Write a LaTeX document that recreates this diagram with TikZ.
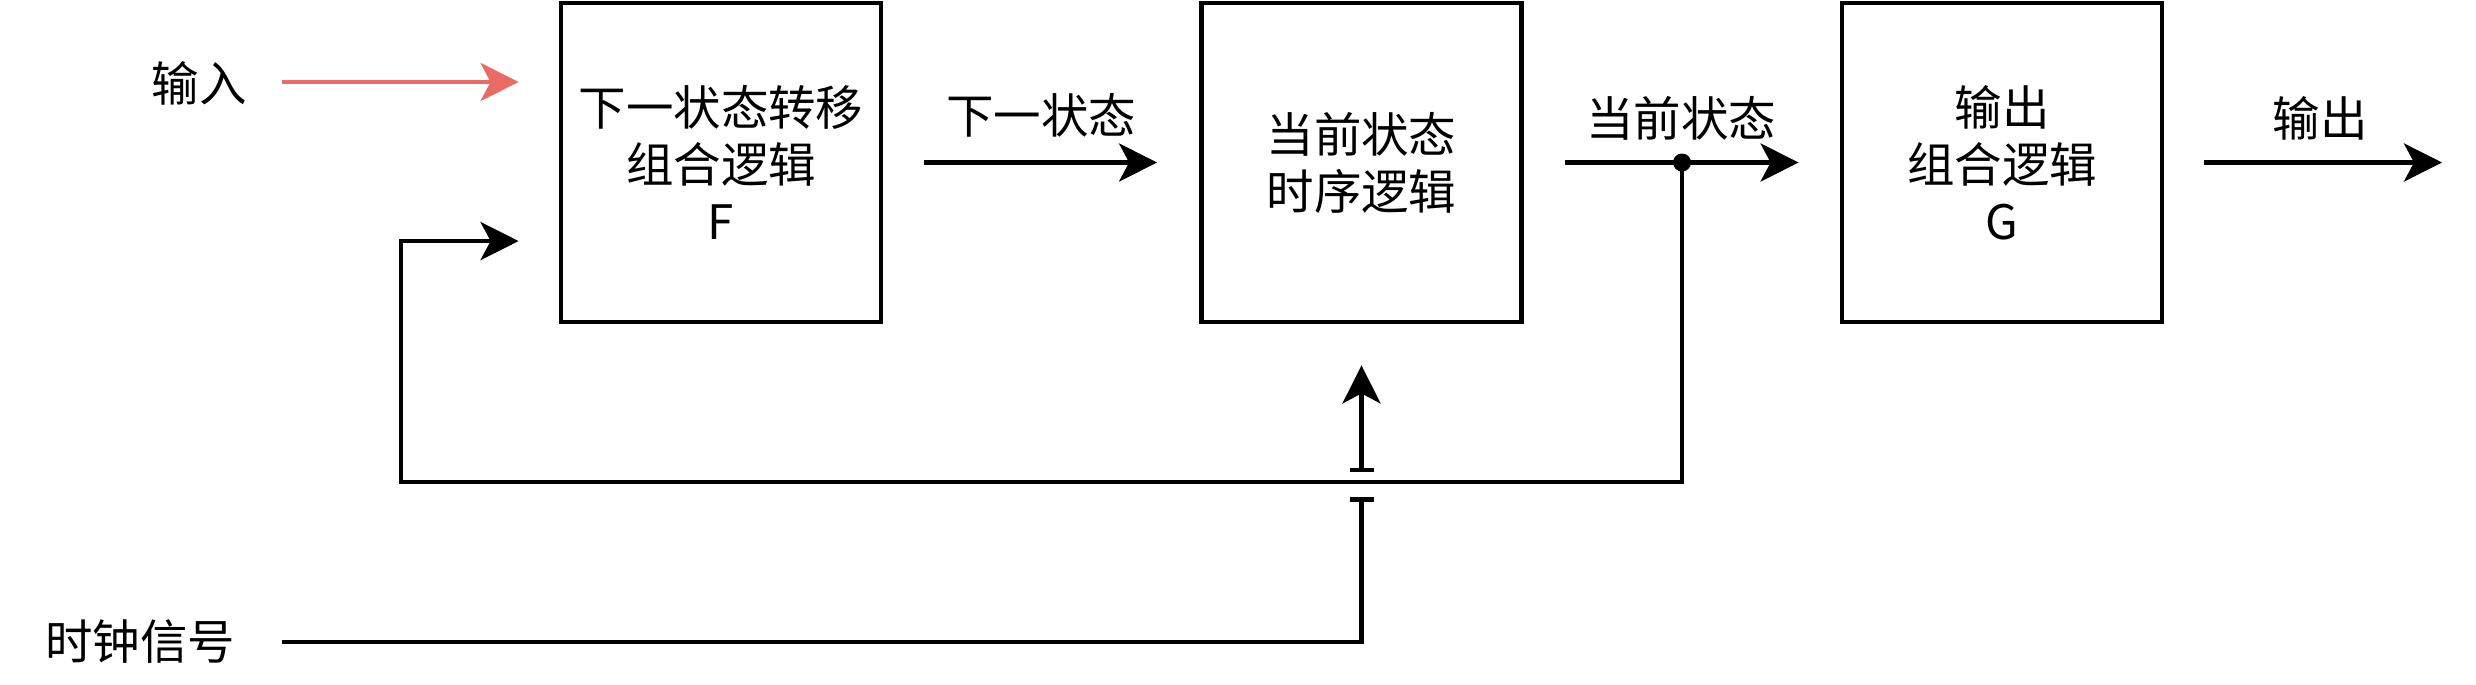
\documentclass[tikz,border=0pt]{standalone}
\usepackage{fontspec}
\setmainfont{Noto Sans CJK SC}
\usetikzlibrary{arrows.meta}
\definecolor{inred}{HTML}{EA6B66}
\tikzset{
  block/.style={draw, line width=1.3pt, minimum width=3.2cm, minimum height=3.19cm, align=center, font=\fontsize{13.5}{16.2}\selectfont},
  lbl/.style={font=\fontsize{13.5}{16.2}\selectfont},
  flow/.style={line width=1.25pt, -{Stealth[length=0.38cm,width=0.38cm,inset=0.1cm]}}
}
\begin{document}
\begin{tikzpicture}[x=0.01cm, y=-0.01cm]
    \useasboundingbox (0,0) rectangle (2476,684);
    \node[block] (F) at (721,162.5) {下一状态转移\\组合逻辑\\F};
    \node[block] (S) at (1361.5,162.5) {当前状态\\时序逻辑};
    \node[block] (G) at (2002,162.5) {输出\\组合逻辑\\G};
    \node[lbl] (in) at (199,83) {输入};
    \node[lbl] (clk) at (140,642) {时钟信号};
    \node[lbl] (nxt) at (1041,115) {下一状态};
    \node[lbl] (cur) at (1681,118) {当前状态};
    \node[lbl] (out) at (2320,118) {输出};
    \coordinate (inStart) at (282,82);
    \coordinate (clkStart) at (282,642);
    \coordinate (tap) at (1682,162.5);
    \coordinate (fbCorner) at (401,482);
    \coordinate (outEnd) at (2442,162.5);

    \draw[flow, inred, shorten >=0.4cm] (inStart) -- (inStart -| F.west);
    \draw[flow, shorten <=0.41cm, shorten >=0.42cm] (F.east) -- (S.west);
    \draw[flow, shorten <=0.41cm, shorten >=0.41cm] (S.east) -- (G.west);
    \draw[flow, shorten <=0.4cm] (G.east) -- (outEnd);
    \draw[flow, shorten >=0.4cm] (tap) |- (fbCorner) |- ([yshift=-0.785cm]F.west);
    \fill (tap) circle (0.09cm);
    \draw[line width=1.25pt, -{Bar[width=0.24cm]}] (clkStart) -| ([yshift=-1.73cm]S.south);
    \draw[line width=1.25pt, {Bar[width=0.24cm]}-{Stealth[length=0.38cm,width=0.38cm,inset=0.1cm]}] ([yshift=-1.48cm]S.south) -- ([yshift=-0.41cm]S.south);
\end{tikzpicture}
\end{document}
